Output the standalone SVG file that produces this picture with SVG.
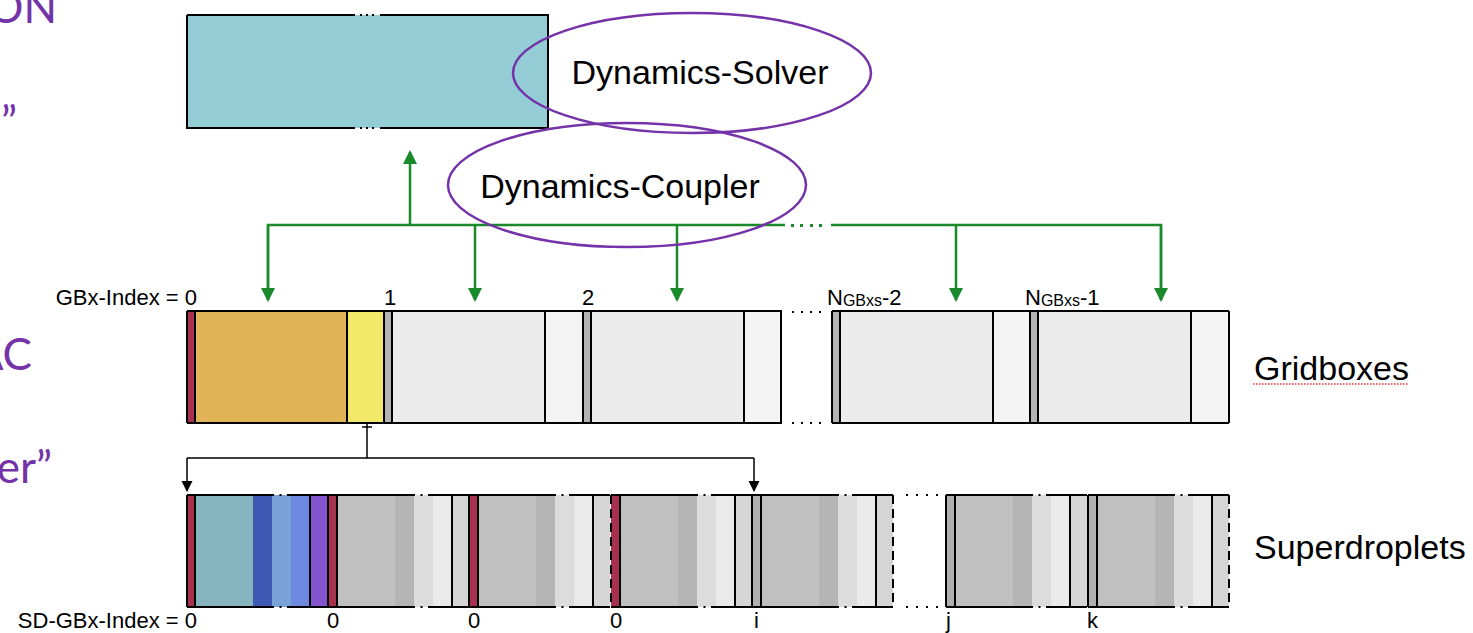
<svg xmlns="http://www.w3.org/2000/svg" xmlns:xlink="http://www.w3.org/1999/xlink" width="1473" height="633" viewBox="0 0 1473 633">
  <style>
    .edge { stroke: #000; stroke-width: 2; fill: none; }
    .dash { stroke: #000; stroke-width: 2; fill: none; stroke-dasharray: 9 5; }
    .green { stroke: #1B8A2A; stroke-width: 2.5; fill: none; }
    .blk { stroke: #000; stroke-width: 1.5; fill: none; }
    .oval { stroke: #7433A8; stroke-width: 2.5; fill: none; }
    .big { font-family: "Liberation Sans", Arial, sans-serif; font-size: 34px; fill: #000; }
    .idx { font-family: "Liberation Sans", Arial, sans-serif; font-size: 22px; fill: #000; }
    .sub { font-size: 16px; }
    .slide { font-family: Lato, "Liberation Sans", sans-serif; font-size: 44px; fill: #7433A8; }
  </style>
  <defs>
    <marker id="gArrow" markerUnits="userSpaceOnUse" markerWidth="14" markerHeight="16" refX="12" refY="7" orient="auto">
      <path d="M0,0 L14,7 L0,14 z" fill="#1B8A2A"/>
    </marker>
    <marker id="kArrow" markerUnits="userSpaceOnUse" markerWidth="12" markerHeight="12" refX="10" refY="5.5" orient="auto">
      <path d="M0,0 L11,5.5 L0,11 z" fill="#000"/>
    </marker>
    <!-- grid box body: strip 0-8, interior 8-161, right part 161-199 -->
    <g id="gbBody">
      <rect x="0" y="311" width="8" height="112" fill="#B4B4B4"/>
      <rect x="8" y="311" width="153" height="112" fill="#EBEBEB"/>
      <rect x="161" y="311" width="38" height="112" fill="#F4F4F4"/>
      <path class="edge" d="M0,311 V423 M8,311 V423 M161,311 V423 M0,311 H199 M0,423 H199"/>
    </g>
    <!-- superdroplet block body (grey), strip drawn separately -->
    <g id="sdBody">
      <rect x="9" y="495" width="58" height="112" fill="#C0C0C0"/>
      <rect x="67" y="495" width="19" height="112" fill="#B5B5B5"/>
      <rect x="86" y="495" width="19" height="112" fill="#DCDCDC"/>
      <rect x="105" y="495" width="19" height="112" fill="#EAEAEA"/>
      <rect x="124" y="495" width="17" height="112" fill="#D5D5D5"/>
      <path class="edge" d="M9,495 V607 M124,495 V607 M0,495 H87 M100,495 H141 M0,607 H87 M100,607 H141"/>
      <rect x="92.5" y="494" width="2" height="2" fill="#000"/>
      <rect x="92.5" y="606" width="2" height="2" fill="#000"/>
    </g>
  </defs>

  <!-- slide text cut off at the left edge -->
  <g id="slide-text">
    <text class="slide" x="57" y="23" text-anchor="end">ON</text>
    <text class="slide" x="17" y="138" text-anchor="end">”</text>
    <text class="slide" x="32" y="370" text-anchor="end">AC</text>
    <text class="slide" x="52" y="483" text-anchor="end">er”</text>
  </g>

  <!-- dynamics domain -->
  <g id="dynamics-domain">
    <rect x="187" y="15" width="361" height="113" fill="#95CDD6"/>
    <path class="edge" d="M187,15 H355 M380,15 H548 V128 H380 M355,128 H187 V15"/>
    <g fill="#000">
      <rect x="360" y="14" width="2" height="2"/><rect x="366" y="14" width="2" height="2"/><rect x="372" y="14" width="2" height="2"/>
      <rect x="360" y="127" width="2" height="2"/><rect x="366" y="127" width="2" height="2"/><rect x="372" y="127" width="2" height="2"/>
    </g>
  </g>

  <!-- connectors -->
  <g id="connectors">
    <path class="green" d="M410,225 V152" marker-end="url(#gArrow)"/>
    <path class="green" d="M268,300 V225 H785"/>
    <path class="green" d="M831,225 H1161 V300"/>
    <g fill="#1B8A2A">
      <rect x="791" y="224" width="3" height="3"/><rect x="800" y="224" width="3" height="3"/>
      <rect x="810" y="224" width="3" height="3"/><rect x="819" y="224" width="3" height="3"/>
    </g>
    <path class="green" d="M268,225 V300" marker-end="url(#gArrow)"/>
    <path class="green" d="M475,225 V300" marker-end="url(#gArrow)"/>
    <path class="green" d="M677,225 V300" marker-end="url(#gArrow)"/>
    <path class="green" d="M956,225 V300" marker-end="url(#gArrow)"/>
    <path class="green" d="M1161,225 V300" marker-end="url(#gArrow)"/>
    <path class="blk" d="M362,427 H372 M367,424 V458 M187,458 H754"/>
    <path class="blk" d="M187,458 V491" marker-end="url(#kArrow)"/>
    <path class="blk" d="M754,458 V491" marker-end="url(#kArrow)"/>
  </g>

  <!-- solver / coupler ovals -->
  <g id="dynamics-solver">
    <ellipse class="oval" cx="692" cy="73" rx="179" ry="60"/>
    <text class="big" x="700" y="84" text-anchor="middle">Dynamics-Solver</text>
  </g>
  <g id="dynamics-coupler">
    <ellipse class="oval" cx="627" cy="185" rx="179" ry="62"/>
    <text class="big" x="620" y="198" text-anchor="middle">Dynamics-Coupler</text>
  </g>

  <!-- gridboxes -->
  <g id="gridbox-0">
    <rect x="187" y="311" width="8" height="112" fill="#A8314F"/>
    <rect x="195" y="311" width="152" height="112" fill="#E2B458"/>
    <rect x="347" y="311" width="37" height="112" fill="#F2E96B"/>
    <path class="edge" d="M187,311 V423 M195,311 V423 M347,311 V423 M187,311 H384 M187,423 H384"/>
  </g>
  <g id="gridbox-1"><use href="#gbBody" x="384"/></g>
  <g id="gridbox-2"><use href="#gbBody" x="583"/><path class="edge" d="M781,311 V423"/></g>
  <g id="gridbox-n2"><use href="#gbBody" x="832"/></g>
  <g id="gridbox-n1"><use href="#gbBody" x="1030"/><path class="edge" d="M1229,311 V423"/></g>
  <g id="gridbox-gap" fill="#000">
    <rect x="792" y="311" width="2" height="2"/><rect x="801" y="311" width="2" height="2"/>
    <rect x="810" y="311" width="2" height="2"/><rect x="819" y="311" width="2" height="2"/>
    <rect x="792" y="422" width="2" height="2"/><rect x="801" y="422" width="2" height="2"/>
    <rect x="810" y="422" width="2" height="2"/><rect x="819" y="422" width="2" height="2"/>
  </g>

  <g id="gridbox-labels">
    <text class="idx" x="197" y="305" text-anchor="end">GBx-Index = 0</text>
    <text class="idx" x="384" y="305">1</text>
    <text class="idx" x="582" y="305">2</text>
    <text class="idx" x="827" y="305">N<tspan class="sub" dy="1">GBxs</tspan><tspan dy="-1">-2</tspan></text>
    <text class="idx" x="1025" y="305">N<tspan class="sub" dy="1">GBxs</tspan><tspan dy="-1">-1</tspan></text>
  </g>
  <g id="gridboxes-title">
    <text class="big" x="1254" y="380">Gridboxes</text>
    <path d="M1253,384 H1408" stroke="#E8323C" stroke-width="1.5" stroke-dasharray="1.5 1.5" fill="none"/>
  </g>

  <!-- superdroplets -->
  <g id="sd-0">
    <rect x="187" y="495" width="8" height="112" fill="#A8314F"/>
    <rect x="195" y="495" width="58" height="112" fill="#86B4BF"/>
    <rect x="253" y="495" width="19" height="112" fill="#3F5AB4"/>
    <rect x="272" y="495" width="19" height="112" fill="#79A3D8"/>
    <rect x="291" y="495" width="19" height="112" fill="#6F89E0"/>
    <rect x="310" y="495" width="18" height="112" fill="#8455CF"/>
    <path class="edge" d="M187,495 V607 M195,495 V607 M310,495 V607 M187,495 H274 M287,495 H328 M187,607 H274 M287,607 H328"/>
    <rect x="279.5" y="494" width="2" height="2" fill="#000"/>
    <rect x="279.5" y="606" width="2" height="2" fill="#000"/>
  </g>
  <g id="sd-1">
    <rect x="328" y="495" width="9" height="112" fill="#A8314F"/>
    <use href="#sdBody" x="328"/>
    <path class="edge" d="M328,495 V607"/>
  </g>
  <g id="sd-2">
    <rect x="469" y="495" width="9" height="112" fill="#A8314F"/>
    <use href="#sdBody" x="469"/>
    <path class="edge" d="M469,495 V607"/>
  </g>
  <g id="sd-3">
    <rect x="611" y="495" width="9" height="112" fill="#A8314F"/>
    <use href="#sdBody" x="611"/>
    <path class="dash" d="M611,495 V607"/>
  </g>
  <g id="sd-i">
    <rect x="752" y="495" width="9" height="112" fill="#AFAFAF"/>
    <use href="#sdBody" x="752"/>
    <path class="edge" d="M752,495 V607"/>
    <path class="dash" d="M893,495 V607"/>
  </g>
  <g id="sd-gap" fill="#000">
    <rect x="906" y="494" width="2" height="2"/><rect x="916" y="494" width="2" height="2"/>
    <rect x="926" y="494" width="2" height="2"/><rect x="936" y="494" width="2" height="2"/>
    <rect x="906" y="606" width="2" height="2"/><rect x="916" y="606" width="2" height="2"/>
    <rect x="926" y="606" width="2" height="2"/><rect x="936" y="606" width="2" height="2"/>
  </g>
  <g id="sd-j">
    <rect x="946" y="495" width="9" height="112" fill="#AFAFAF"/>
    <use href="#sdBody" x="946"/>
    <path class="edge" d="M946,495 V607"/>
  </g>
  <g id="sd-k">
    <rect x="1088" y="495" width="9" height="112" fill="#AFAFAF"/>
    <use href="#sdBody" x="1088"/>
    <path class="edge" d="M1088,495 V607"/>
    <path class="dash" d="M1229,495 V607"/>
  </g>

  <g id="sd-labels">
    <text class="idx" x="197" y="628" text-anchor="end">SD-GBx-Index = 0</text>
    <text class="idx" x="327" y="628">0</text>
    <text class="idx" x="468" y="628">0</text>
    <text class="idx" x="610" y="628">0</text>
    <text class="idx" x="754" y="628">i</text>
    <text class="idx" x="946" y="628">j</text>
    <text class="idx" x="1087" y="628">k</text>
  </g>
  <g id="superdroplets-title">
    <text class="big" x="1254" y="559">Superdroplets</text>
  </g>
</svg>
